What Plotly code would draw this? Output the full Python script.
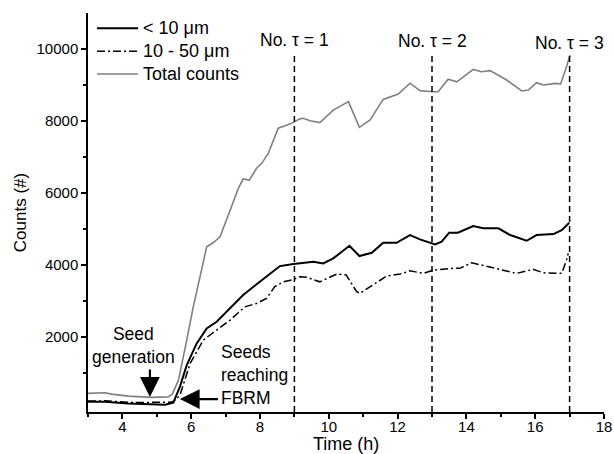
import plotly.graph_objects as go

# ---- data ----
t_total = [3.0, 3.49, 3.69, 4.17, 4.85, 5.33, 5.45, 5.63, 5.87, 6.06, 6.3, 6.45, 6.64, 6.84, 7.08,
           7.37, 7.51, 7.69, 7.9, 8.05, 8.24, 8.53, 8.73, 8.92, 9.16, 9.26, 9.45, 9.74, 10.13, 10.57,
           10.89, 11.2, 11.58, 12.02, 12.36, 12.65, 13.04, 13.18, 13.47, 13.72, 14.2, 14.44, 14.69,
           15.17, 15.61, 15.8, 16.04, 16.24, 16.58, 16.74, 16.91, 17.01]
total = [436, 453, 417, 361, 325, 340, 417, 805, 1917, 2840, 3860, 4510, 4620, 4790, 5390,
         6130, 6390, 6360, 6690, 6825, 7100, 7800, 7870, 7935, 8060, 8075, 8010, 7955, 8305, 8540,
         7825, 8030, 8600, 8750, 9050, 8845, 8815, 8815, 9160, 9090, 9435, 9370, 9400,
         9140, 8835, 8860, 9065, 9000, 9045, 9030, 9510, 9830]

t_small = [3.0, 3.49, 4.17, 4.85, 5.24, 5.38, 5.48, 5.67, 5.87, 6.16, 6.45, 6.74, 7.13, 7.51, 7.81,
           8.19, 8.58, 8.97, 9.16, 9.55, 9.84, 10.13, 10.6, 10.89, 11.25, 11.58, 11.97, 12.36, 12.65,
           13.09, 13.28, 13.5, 13.75, 14.2, 14.49, 14.93, 15.27, 15.75, 16.04, 16.53, 16.77, 16.99]
small = [203, 203, 157, 130, 120, 157, 180, 620, 1222, 1825, 2240, 2425, 2800, 3167, 3400,
         3675, 3972, 4028, 4045, 4090, 4045, 4185, 4535, 4250, 4340, 4620, 4620, 4835, 4715,
         4575, 4650, 4900, 4900, 5085, 5020, 5020, 4835, 4675, 4835, 4860, 4970, 5175]

t_mid = [3.0, 3.49, 4.3, 5.14, 5.4, 5.5, 5.67, 5.97, 6.35, 6.74, 7.13, 7.56, 7.9, 8.19, 8.43,
         8.68, 8.97, 9.16, 9.36, 9.74, 10.23, 10.5, 10.81, 10.91, 11.29, 11.68, 12.07, 12.36, 12.75,
         13.04, 13.62, 13.81, 14.15, 14.69, 15.46, 15.94, 16.24, 16.67, 16.77, 16.91, 16.96]
mid = [225, 230, 185, 175, 190, 220, 380, 1270, 1917, 2195, 2472, 2840, 2935, 3075, 3400,
       3535, 3600, 3675, 3660, 3535, 3750, 3730, 3260, 3215, 3445, 3695, 3750, 3840, 3770,
       3860, 3910, 3910, 4065, 3950, 3770, 3880, 3785, 3770, 3770, 4140, 4325]

tau_times = [9, 13, 17]
tau_labels = ["No. \u03c4 = 1", "No. \u03c4 = 2", "No. \u03c4 = 3"]
tau_label_y = [10250, 10220, 10170]

series_names = ["< 10 \u03bcm", "10 - 50 \u03bcm", "Total counts"]

y_ticks = [2000, 4000, 6000, 8000, 10000]
y_minor = [1000, 3000, 5000, 7000, 9000]

FONT = "Liberation Sans, Arial, sans-serif"
styles = [dict(color="black", width=2),
          dict(color="black", width=1.5, dash="8px,3px,2px,3px"),
          dict(color="#808080", width=1.6)]

fig = go.Figure()
for xs, ys, nm, st in zip([t_small, t_mid, t_total], [small, mid, total], series_names, styles):
    fig.add_trace(go.Scatter(x=xs, y=ys, mode="lines", name=nm, line=st, showlegend=False))

# manual legend (top-left, inside plot)
leg_y = [0.962, 0.904, 0.847]
for nm, st, ly in zip(series_names, styles, leg_y):
    fig.add_shape(type="line", xref="paper", yref="paper", x0=0.0174, x1=0.097, y0=ly, y1=ly,
                  line=st)
    fig.add_annotation(x=0.102, y=ly, xref="paper", yref="paper", text=nm, showarrow=False,
                       xanchor="left", yanchor="middle", font=dict(size=18, color="black", family=FONT))

for t, lab, ly in zip(tau_times, tau_labels, tau_label_y):
    fig.add_shape(type="line", xref="x", yref="y", x0=t, x1=t, y0=-80, y1=9900,
                  line=dict(color="black", width=1.5, dash="6px,4px"))
    fig.add_annotation(x=t, y=ly, xref="x", yref="y", text=lab, showarrow=False,
                       font=dict(size=17.5, color="black", family=FONT))

# Seed generation
fig.add_annotation(x=4.31, y=1780, xref="x", yref="y", text="Seed<br>generation",
                   showarrow=False, font=dict(size=17.5, color="black", family=FONT))
fig.add_annotation(x=4.8, y=340, ax=4.8, ay=1140, xref="x", yref="y", axref="x", ayref="y",
                   text="", showarrow=True, arrowhead=2, arrowsize=1.8, arrowwidth=2.2,
                   arrowcolor="black")
# Seeds reaching FBRM
fig.add_annotation(x=6.82, y=945, xref="x", yref="y", text="Seeds<br>reaching<br>FBRM",
                   showarrow=False, xanchor="left", yanchor="middle", align="left",
                   font=dict(size=17.5, color="black", family=FONT))
fig.add_annotation(x=5.67, y=280, ax=6.82, ay=280, xref="x", yref="y", axref="x", ayref="y",
                   text="", showarrow=True, arrowhead=2, arrowsize=1.8, arrowwidth=2.2,
                   arrowcolor="black")

# x-axis title placed just under the tick labels
fig.add_annotation(x=0.5, y=-0.081, xref="paper", yref="paper", text="Time (h)", showarrow=False,
                   xanchor="center", yanchor="middle", font=dict(size=18, color="black", family=FONT))

fig.update_layout(
    width=614, height=454,
    margin=dict(l=88, r=10, t=13, b=42),
    paper_bgcolor="white", plot_bgcolor="white",
    font=dict(family=FONT, size=15, color="black"),
    showlegend=False,
)
fig.update_xaxes(range=[3, 18], tick0=0, dtick=2, showgrid=False, zeroline=False, automargin=False,
                 showline=True, linecolor="black", linewidth=1.5,
                 ticks="outside", ticklen=5, tickwidth=1.5, tickcolor="black",
                 ticklabelstandoff=-5,
                 minor=dict(ticks="outside", dtick=1, tick0=0, ticklen=3, tickwidth=1.5, tickcolor="black"),
                 tickfont=dict(size=15))
fig.update_yaxes(range=[-80, 11000], tickvals=y_ticks, tickformat="d", showgrid=False, zeroline=False,
                 automargin=False,
                 showline=True, linecolor="black", linewidth=1.5,
                 ticks="outside", ticklen=5, tickwidth=1.5, tickcolor="black",
                 minor=dict(ticks="outside", tickvals=y_minor, ticklen=3, tickwidth=1.5, tickcolor="black"),
                 title=dict(text="Counts (#)", font=dict(size=17), standoff=6),
                 tickfont=dict(size=15))

fig.write_html("out.html")
